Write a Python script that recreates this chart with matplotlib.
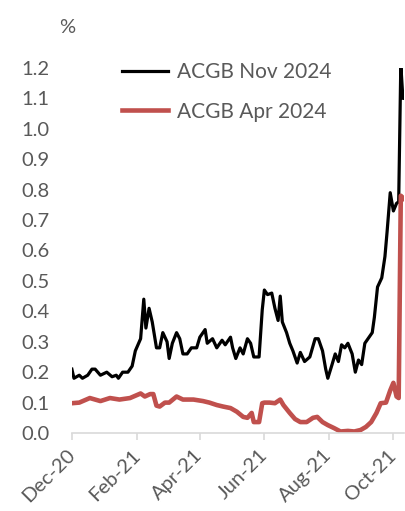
import pandas as pd
import matplotlib
matplotlib.use("Agg")
import matplotlib.pyplot as plt
import matplotlib.dates as mdates

plt.rcParams["font.family"] = ["Lato", "DejaVu Sans"]

# ACGB Nov 2024 yield (%)
nov_dates = [
    "2020-12-01", "2020-12-03", "2020-12-08", "2020-12-11", "2020-12-16", "2020-12-20",
    "2020-12-23", "2020-12-28", "2021-01-03", "2021-01-08", "2021-01-12", "2021-01-14",
    "2021-01-18", "2021-01-23", "2021-01-27", "2021-01-30", "2021-02-04", "2021-02-07",
    "2021-02-09", "2021-02-12", "2021-02-15", "2021-02-19", "2021-02-22", "2021-02-25",
    "2021-03-01", "2021-03-03", "2021-03-06", "2021-03-10", "2021-03-13", "2021-03-16",
    "2021-03-20", "2021-03-24", "2021-03-29", "2021-04-01", "2021-04-06", "2021-04-08",
    "2021-04-13", "2021-04-17", "2021-04-22", "2021-04-25", "2021-04-30", "2021-05-02",
    "2021-05-05", "2021-05-09", "2021-05-12", "2021-05-16", "2021-05-19", "2021-05-22",
    "2021-05-27", "2021-05-30", "2021-06-01", "2021-06-04", "2021-06-08", "2021-06-11",
    "2021-06-14", "2021-06-16", "2021-06-18", "2021-06-22", "2021-06-25", "2021-06-28",
    "2021-07-02", "2021-07-05", "2021-07-09", "2021-07-14", "2021-07-19", "2021-07-22",
    "2021-07-26", "2021-07-29", "2021-07-31", "2021-08-04", "2021-08-07", "2021-08-10",
    "2021-08-13", "2021-08-16", "2021-08-19", "2021-08-23", "2021-08-26", "2021-08-29",
    "2021-09-01", "2021-09-04", "2021-09-07", "2021-09-11", "2021-09-13", "2021-09-16",
    "2021-09-20", "2021-09-23", "2021-09-25", "2021-09-28", "2021-10-01", "2021-10-04",
    "2021-10-06", "2021-10-08", "2021-10-10", "2021-10-11",
]
nov_2024 = [
    0.21, 0.18, 0.19, 0.18, 0.19, 0.21,
    0.21, 0.19, 0.20, 0.185, 0.19, 0.18,
    0.20, 0.20, 0.22, 0.27, 0.31, 0.44,
    0.345, 0.41, 0.365, 0.28, 0.28, 0.33,
    0.30, 0.245, 0.295, 0.33, 0.31, 0.26,
    0.26, 0.28, 0.28, 0.315, 0.34, 0.295,
    0.31, 0.28, 0.305, 0.29, 0.315, 0.28,
    0.245, 0.28, 0.26, 0.31, 0.295, 0.25,
    0.25, 0.405, 0.47, 0.455, 0.46, 0.41,
    0.37, 0.45, 0.365, 0.33, 0.295, 0.27,
    0.23, 0.265, 0.235, 0.25, 0.31, 0.31,
    0.27, 0.21, 0.18, 0.225, 0.26, 0.235,
    0.29, 0.28, 0.295, 0.26, 0.20, 0.24,
    0.225, 0.295, 0.31, 0.33, 0.38, 0.48,
    0.51, 0.58, 0.66, 0.79, 0.73, 0.755,
    0.76, 1.21, 1.10, 1.10,
]

# ACGB Apr 2024 yield (%)
apr_dates = [
    "2020-12-01", "2020-12-08", "2020-12-18", "2020-12-28", "2021-01-06", "2021-01-15",
    "2021-01-25", "2021-02-04", "2021-02-08", "2021-02-13", "2021-02-16", "2021-02-19",
    "2021-02-22", "2021-02-27", "2021-03-03", "2021-03-10", "2021-03-16", "2021-03-26",
    "2021-04-04", "2021-04-10", "2021-04-17", "2021-04-23", "2021-04-30", "2021-05-06",
    "2021-05-12", "2021-05-16", "2021-05-20", "2021-05-22", "2021-05-27", "2021-05-30",
    "2021-06-01", "2021-06-06", "2021-06-11", "2021-06-16", "2021-06-19", "2021-06-25",
    "2021-06-30", "2021-07-05", "2021-07-11", "2021-07-17", "2021-07-21", "2021-07-26",
    "2021-07-31", "2021-08-06", "2021-08-12", "2021-08-19", "2021-08-25", "2021-08-31",
    "2021-09-05", "2021-09-10", "2021-09-15", "2021-09-19", "2021-09-24", "2021-09-28",
    "2021-10-01", "2021-10-04", "2021-10-06", "2021-10-08", "2021-10-11",
]
apr_2024 = [
    0.098, 0.10, 0.115, 0.105, 0.115, 0.11,
    0.115, 0.13, 0.12, 0.128, 0.128, 0.09,
    0.087, 0.10, 0.10, 0.12, 0.11, 0.11,
    0.105, 0.10, 0.092, 0.087, 0.082, 0.07,
    0.053, 0.05, 0.066, 0.036, 0.036, 0.098,
    0.10, 0.10, 0.098, 0.11, 0.092, 0.066,
    0.046, 0.036, 0.036, 0.05, 0.053, 0.036,
    0.026, 0.016, 0.005, 0.007, 0.005, 0.01,
    0.02, 0.036, 0.066, 0.098, 0.10, 0.14,
    0.165, 0.12, 0.115, 0.78, 0.77,
]

tick_dates = ["2020-12-01", "2021-02-01", "2021-04-01", "2021-06-01", "2021-08-01", "2021-10-01"]

grey = "#595959"

fig = plt.figure(figsize=(4.06, 5.11), dpi=100)
ax = fig.add_axes([0.177, 0.1526, 0.818, 0.7144])

ax.plot(pd.to_datetime(nov_dates), nov_2024, color="black", lw=2.3, label="ACGB Nov 2024")
ax.plot(pd.to_datetime(apr_dates), apr_2024, color="#C0504D", lw=3.3, label="ACGB Apr 2024")

ax.set_ylim(0, 1.2)
ax.set_xlim(pd.Timestamp("2020-12-01"), pd.Timestamp("2021-10-11"))
ax.set_yticks([i / 10 for i in range(13)])
ax.set_yticklabels([f"{i / 10:.1f}" for i in range(13)])
ax.set_xticks(pd.to_datetime(tick_dates))
ax.xaxis.set_major_formatter(mdates.DateFormatter("%b-%y"))

for s in ["top", "right", "left"]:
    ax.spines[s].set_visible(False)
ax.spines["bottom"].set_color("#d9d9d9")
ax.spines["bottom"].set_linewidth(1.2)

ax.tick_params(axis="y", length=0, pad=16, labelsize=14.5, labelcolor=grey)
ax.tick_params(axis="x", length=5, width=1.2, color="#d9d9d9", direction="out",
               pad=9, labelsize=14.5, labelcolor=grey)
for lbl in ax.get_xticklabels():
    lbl.set_rotation(45)
    lbl.set_ha("right")
    lbl.set_va("center")
    lbl.set_rotation_mode("anchor")

fig.text(0.145, 0.935, "%", fontsize=14.5, color=grey)

leg = ax.legend(loc="upper left", bbox_to_anchor=(0.095, 1.068), frameon=False,
                fontsize=15, handlelength=2.2, handletextpad=0.45, labelspacing=0.95)
for t in leg.get_texts():
    t.set_color(grey)

fig.savefig("out.png", dpi=100)
